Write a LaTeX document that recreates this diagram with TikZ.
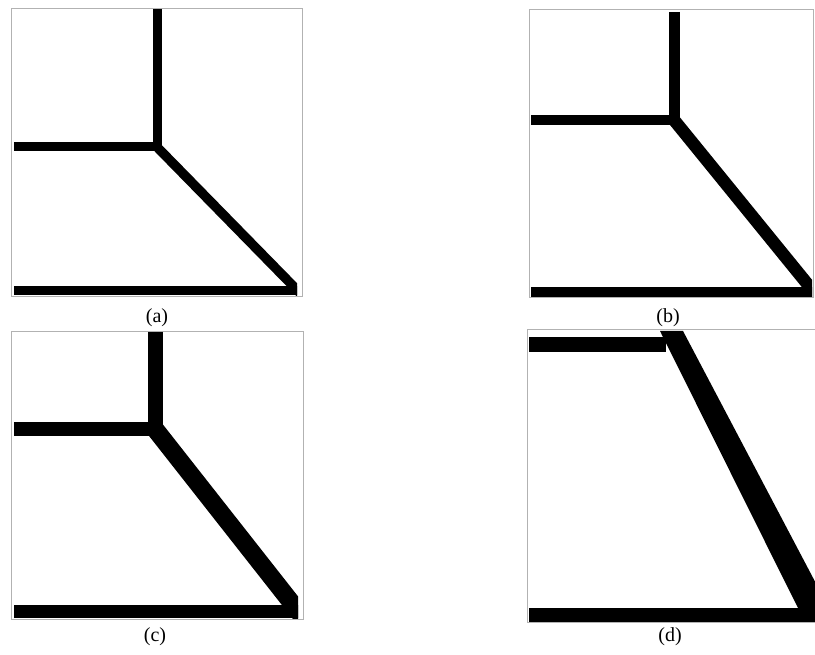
\documentclass[tikz,border=0pt]{standalone}
\usepackage{fontspec}
\setmainfont{Liberation Serif}
\usetikzlibrary{positioning}

\begin{document}
\begin{tikzpicture}[x=1pt, y=-1pt,
    frm/.style={draw=black!30, line width=1pt},
    beam/.style={draw=black, line join=bevel},
    lbl/.style={font=\fontsize{20}{22}\selectfont, inner sep=0pt}]
    \clip (0,0) rectangle (815,655);
    \fill[white] (0,0) rectangle (815,655);

    % Frames
    \draw[frm] (11,9) rectangle (302,297);
    \draw[frm] (529,10) rectangle (813,298);
    \draw[frm] (11,332) rectangle (303,619);
    \draw[frm] (527,330) rectangle (830,622);

    % (a)
    \coordinate (aT) at (157,9);
    \coordinate (aJ) at (157,147);
    \coordinate (aL) at (14,147);
    \coordinate (aC) at (300,293);
    \coordinate (aB) at (14,291);
    \begin{scope}
        \clip (14,9) rectangle (297,296);
        \draw[beam, line width=9pt] (aT) -- (aJ);
        \draw[beam, line width=9pt] (aL) -- (aJ);
        \draw[beam, line width=9.5pt] (aJ) -- (aC);
        \draw[beam, line width=9pt] (aB) -- ++(300,0);
    \end{scope}
    \node[lbl] (la) at (157,318) {(a)};

    % (b)
    \coordinate (bT) at (674,12);
    \coordinate (bJ) at (674,120);
    \coordinate (bL) at (531,120);
    \coordinate (bC) at (818,297);
    \coordinate (bB) at (531,292);
    \begin{scope}
        \clip (531,12) rectangle (812,297);
        \draw[beam, line width=11pt] (bT) -- (bJ);
        \draw[beam, line width=10pt] (bL) -- (bJ);
        \draw[beam, line width=12.5pt] (bJ) -- (bC);
        \draw[beam, line width=10pt] (bB) -- ++(300,0);
    \end{scope}
    \node[lbl] (lb) at (668,318) {(b)};

    % (c)
    \coordinate (cT) at (155,332);
    \coordinate (cJ) at (155,429);
    \coordinate (cL) at (14,429);
    \coordinate (cC) at (302,616);
    \coordinate (cB) at (14,611);
    \begin{scope}
        \clip (14,332) rectangle (298,618);
        \draw[beam, line width=15pt] (cT) -- (cJ);
        \draw[beam, line width=13pt] (cL) -- (cJ);
        \draw[beam, line width=18pt] (cJ) -- (cC);
        \draw[beam, line width=13pt] (cB) -- ++(300,0);
    \end{scope}
    \node[lbl] (lc) at (155,637) {(c)};

    % (d)
    \coordinate (dL) at (529,345);
    \coordinate (dJ) at (666,345);
    \coordinate (dB) at (529,615);
    \coordinate (dC) at (830,615);
    \begin{scope}
        \clip (529,331) rectangle (830,622);
        \draw[beam, line width=15pt] (dL) -- (dJ);
        \fill (660,331) -- (683,331) -- (830,610) -- (830,622) -- (798,608) -- cycle;
        \draw[beam, line width=14pt] (dB) -- (dC);
    \end{scope}
    \node[lbl] (ld) at (670,637) {(d)};
\end{tikzpicture}
\end{document}
